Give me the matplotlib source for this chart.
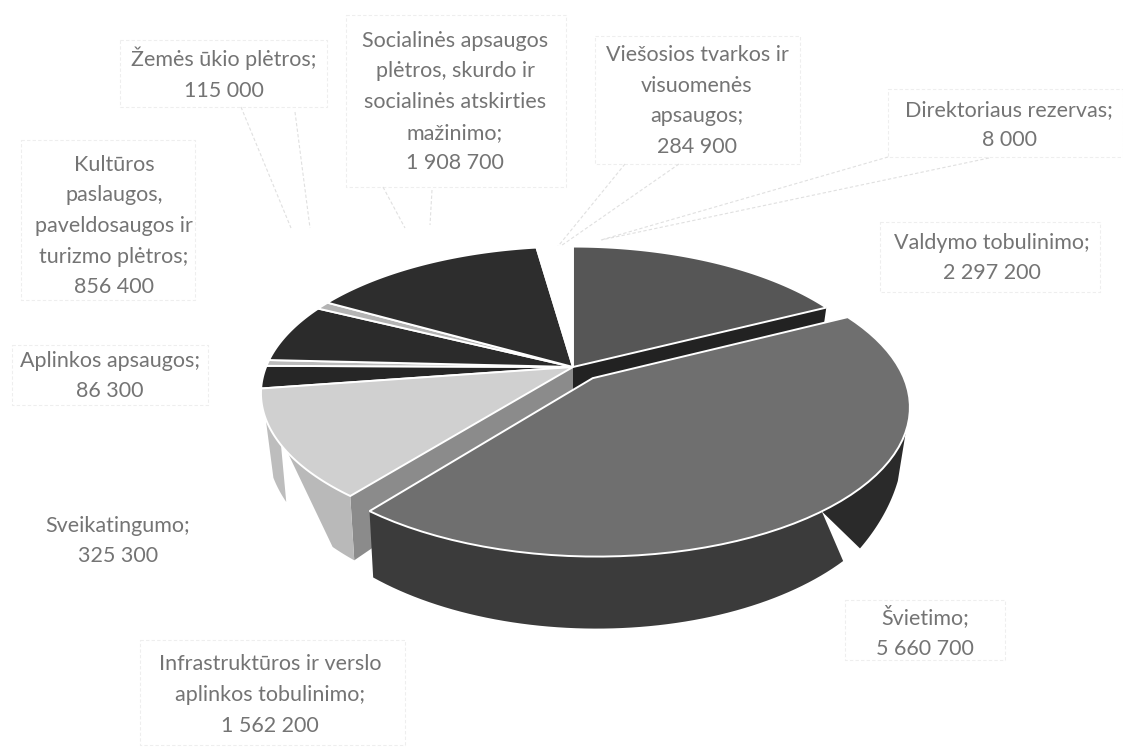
import numpy as np
import matplotlib
matplotlib.use('Agg')
import matplotlib.pyplot as plt
from matplotlib.patches import Polygon

names = ['Valdymo tobulinimo;', 'Švietimo;', 'Infrastruktūros ir verslo\naplinkos tobulinimo;',
         'Sveikatingumo;', 'Aplinkos apsaugos;', 'Kultūros\npaslaugos,\npaveldosaugos ir\nturizmo plėtros;',
         'Žemės ūkio plėtros;', 'Socialinės apsaugos\nplėtros, skurdo ir\nsocialinės atskirties\nmažinimo;',
         'Viešosios tvarkos ir\nvisuomenės\napsaugos;', 'Direktoriaus rezervas;']
values = [2297200, 5660700, 1562200, 325300, 86300, 856400, 115000, 1908700, 284900, 8000]
top_colors = ['#565656', '#6f6f6f', '#d0d0d0', '#262626', '#bcbcbc', '#2b2b2b', '#b4b4b4', '#2d2d2d', '#ffffff', '#ffffff']

label_pos = [(992, 258), (925, 632), (270, 695), (118, 541), (110, 376), (114, 226), (224, 74), (455, 102), (697, 101), (1009, 125)]

CX, CY = 573, 367
A, B, K = 307, 142, 0.179   # perspective of the pie plane
EXPLODE = 0.1

fig = plt.figure(figsize=(11.23, 7.49), dpi=100)
ax = fig.add_axes([0, 0, 1, 1])
ax.set_xlim(0, 1123)
ax.set_ylim(749, 0)
ax.axis('off')

shares = np.array(values) / sum(values) * 360
ends = np.cumsum(shares)
starts = ends - shares


def wall_h(Y):
    return 44 - 26 * Y


def rim(theta, ox=0.0, oy=0.0):
    t = np.radians(np.atleast_1d(theta))
    return np.sin(t) + ox, np.cos(t) + oy


def project(X, Y, lower=False, h=None):
    d = 1 + K * Y
    x = A * X / d
    y = -B * Y / d
    if lower:
        x = x * 0.982
        y = y + (wall_h(Y) if h is None else h)
    return np.column_stack([CX + x, CY + y])


def arc(a, b, ox=0.0, oy=0.0, lower=False, h=None):
    X, Y = rim(np.linspace(a, b, 60), ox, oy)
    return project(X, Y, lower, h)


def sector(a, b, ox=0.0, oy=0.0):
    apex = project(np.array([ox]), np.array([oy]))
    return np.vstack([apex, arc(a, b, ox, oy)])


def wall(ra, rb, ba, bb, color, ox=0.0, oy=0.0, h=None):
    upper = arc(ra, rb, ox, oy)
    lower = arc(ba, bb, ox, oy, True, h)
    ax.add_patch(Polygon(np.vstack([upper, lower[::-1]]), fc=color, ec='none', zorder=3))


def edge_face(theta, color):
    X, Y = rim(theta)
    c = project(np.array([0.0]), np.array([0.0]))
    c2 = project(np.array([0.0]), np.array([0.0]), True)
    p = project(X, Y)
    p2 = project(X, Y, True)
    ax.add_patch(Polygon(np.vstack([c, p, p2, c2]), fc=color, ec='none', zorder=2))


# back slices
for i in [3, 4, 5, 6, 7, 8, 9]:
    ax.add_patch(Polygon(sector(starts[i], ends[i]), fc=top_colors[i], ec='white', lw=1.4, zorder=2))

# cut faces next to the pulled out slice
edge_face(ends[0], '#222222')
ax.add_patch(Polygon(sector(starts[0], ends[0]), fc=top_colors[0], ec='white', lw=1.4, zorder=2.5))
edge_face(starts[2], '#8b8b8b')

# light slice, wall has a white break in the scan
wall(starts[2], 237, starts[2], 224, '#b9b9b9')
wall(240, 250, 240, 248, '#bdbdbd')
ax.add_patch(Polygon(sector(starts[2], ends[2]), fc=top_colors[2], ec='white', lw=1.4, zorder=3.5))

# pulled out slice
mid = np.radians(starts[1] + shares[1] / 2)
ox, oy = EXPLODE * np.sin(mid), EXPLODE * np.cos(mid)
wall(141.5, ends[1], 135, ends[1], '#3b3b3b', ox, oy)
wall(110, 141.5, 112, 130, '#2a2a2a', ox, oy, h=np.linspace(44, 64, 60))
ax.add_patch(Polygon(sector(starts[1], ends[1], ox, oy), fc=top_colors[1], ec='white', lw=1.4, zorder=4))

# labels
for name, v, (x, y) in zip(names, values, label_pos):
    txt = name + '\n' + f'{v:,}'.replace(',', ' ')
    ax.text(x, y, txt, ha='center', va='center', fontsize=15.5, family='Lato', color='#747474',
            linespacing=1.67, zorder=6)

# faint callout frames and leaders
frames = [(120, 40, 327, 107), (346, 15, 566, 187), (21, 140, 195, 300), (595, 36, 800, 164), (888, 89, 1123, 157),
          (880, 222, 1100, 292), (845, 600, 1005, 660), (140, 640, 405, 745), (12, 345, 208, 405)]
for x0, y0, x1, y1 in frames:
    ax.plot([x0, x1, x1, x0, x0], [y0, y0, y1, y1, y0], color='#eeeeee', lw=0.8, ls=(0, (3, 2)), zorder=1)
leaders = [((888, 157), (601, 240)), ((989, 158), (601, 240)), ((625, 164), (555, 250)), ((679, 164), (555, 250)),
           ((383, 187), (405, 228)), ((432, 190), (430, 225)), ((241, 107), (291, 228)), ((295, 112), (310, 228))]
for p, q in leaders:
    ax.plot([p[0], q[0]], [p[1], q[1]], color='#e0e0e0', lw=0.8, ls=(0, (3, 2)), zorder=1)

fig.savefig('out.png', dpi=100)
